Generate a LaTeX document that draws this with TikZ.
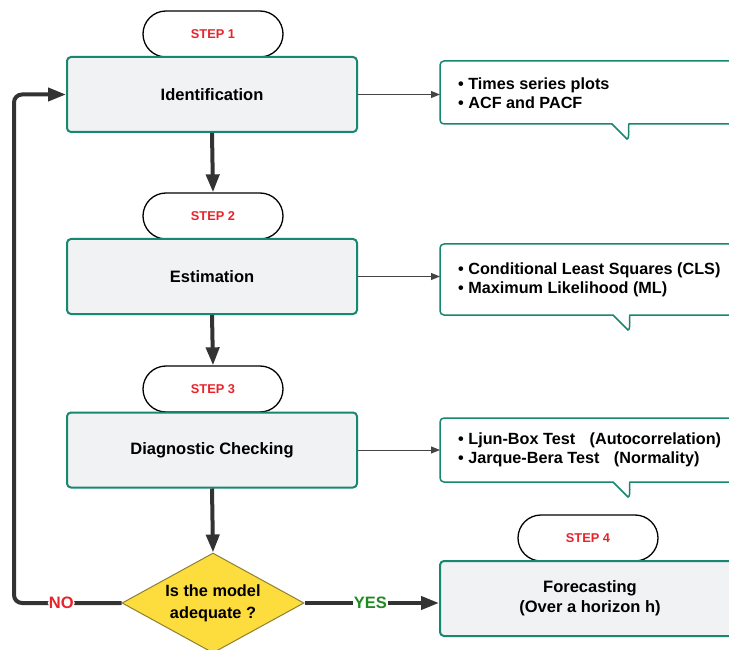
\documentclass[tikz,border=0pt]{standalone}
\usepackage{fontspec}
\setmainfont{Liberation Sans}
\usetikzlibrary{shapes.geometric,arrows.meta}
\definecolor{tealc}{HTML}{17876F}
\definecolor{boxfill}{HTML}{F1F2F4}
\definecolor{stepred}{HTML}{E8232A}
\definecolor{darkline}{HTML}{333333}
\definecolor{thinline}{HTML}{444444}
\definecolor{yesgreen}{HTML}{1F8A20}
\definecolor{dyellow}{HTML}{FDDC3E}
\definecolor{dborder}{HTML}{8F8030}
\newcommand{\calloutshape}[3]{%
  \draw[draw=tealc, line width=1.5pt, fill=white, rounded corners=4pt]
    (440,#1) -- (775,#1) -- (775,#2) -- (#3+6,#2) [sharp corners]
    .. controls (#3+1,#2) and (#3+3,#2+15) .. (#3,#2+15)
    -- (#3-15,#2) [rounded corners=4pt] -- (440,#2) -- cycle;}
\begin{document}
\begin{tikzpicture}[x=1pt,y=-1pt,
  mainbox/.style={draw=tealc, line width=2pt, fill=boxfill, rounded corners=4pt,
    minimum width=290pt, minimum height=75pt, align=center,
    font=\fontsize{16.5}{20}\selectfont\bfseries},
  pill/.style={draw=black, line width=1.3pt, fill=white, rounded corners=23pt,
    minimum width=140pt, minimum height=46pt, text=stepred,
    font=\fontsize{12.8}{15}\selectfont\bfseries},
  calltext/.style={anchor=west, align=left, inner sep=0pt,
    font=\fontsize{16.2}{19.5}\selectfont\bfseries},
  thickarrow/.style={draw=darkline, line width=4pt, -{Triangle[length=18pt,width=13pt]}},
  thinarrow/.style={draw=thinline, line width=1pt, -{Triangle[length=9pt,width=7pt]}},
  decision/.style={diamond, aspect=1.82, draw=dborder, line width=1pt, fill=dyellow,
    minimum width=182pt, minimum height=100pt, inner sep=0pt, align=center,
    font=\fontsize{16.3}{22}\selectfont\bfseries},
  nolabel/.style={fill=white, inner sep=1pt, text=stepred, font=\fontsize{16.5}{18}\selectfont\bfseries},
  yeslabel/.style={fill=white, inner sep=1pt, text=yesgreen, font=\fontsize{16.5}{18}\selectfont\bfseries}
]
\clip (0,0) rectangle (729,650);
\fill[white] (0,0) rectangle (729,650);

% step pills
\node[pill] (s1) at (213,34) {STEP 1};
\node[pill] (s2) at (213,216) {STEP 2};
\node[pill] (s3) at (213,389) {STEP 3};
\node[pill] (s4) at (588,538) {STEP 4};

% main boxes
\node[mainbox] (id) at (212,94.5) {Identification};
\node[mainbox] (est) at (212,276.5) {Estimation};
\node[mainbox] (diag) at (212,450) {Diagnostic Checking};
\node[mainbox, minimum width=300pt] (fc) at (590,598.5) {Forecasting\\(Over a horizon h)};

% decision
\node[decision] (dia) at (213,603) {Is the model\\adequate ?};

% callouts
\calloutshape{61}{124}{627}
\calloutshape{244}{315}{628}
\calloutshape{418}{482}{628}
\node[calltext] (c1) at (458,93) {\textbullet\ Times series plots\\\textbullet\ ACF and PACF};
\node[calltext] (c2) at (458,280) {\textbullet\ Conditional Least Squares (CLS)\\\textbullet\ Maximum Likelihood (ML)};
\node[calltext] (c3) at (458,450) {\textbullet\ Ljun-Box Test\hspace{10pt} (Autocorrelation)\\\textbullet\ Jarque-Bera Test\hspace{10pt} (Normality)};
\coordinate (c1in) at (440,94.5);
\coordinate (c2in) at (440,276.5);
\coordinate (c3in) at (440,450);

% connectors
\draw[thinarrow] (id.east) -- (c1in);
\draw[thinarrow] (est.east) -- (c2in);
\draw[thinarrow] (diag.east) -- (c3in);
\draw[thickarrow] (id.south) -- (s2.north);
\draw[thickarrow] (est.south) -- (s3.north);
\draw[thickarrow] (diag.south) -- (dia.north);
\draw[thickarrow] (dia.east) -- node[yeslabel, pos=0.49] {YES} (dia.east -| fc.west);
\coordinate (loopc) at (14,603);
\draw[thickarrow, rounded corners=8pt] (dia.west) -- node[nolabel, pos=0.56] {NO} (loopc) |- (id.west);
\end{tikzpicture}
\end{document}
